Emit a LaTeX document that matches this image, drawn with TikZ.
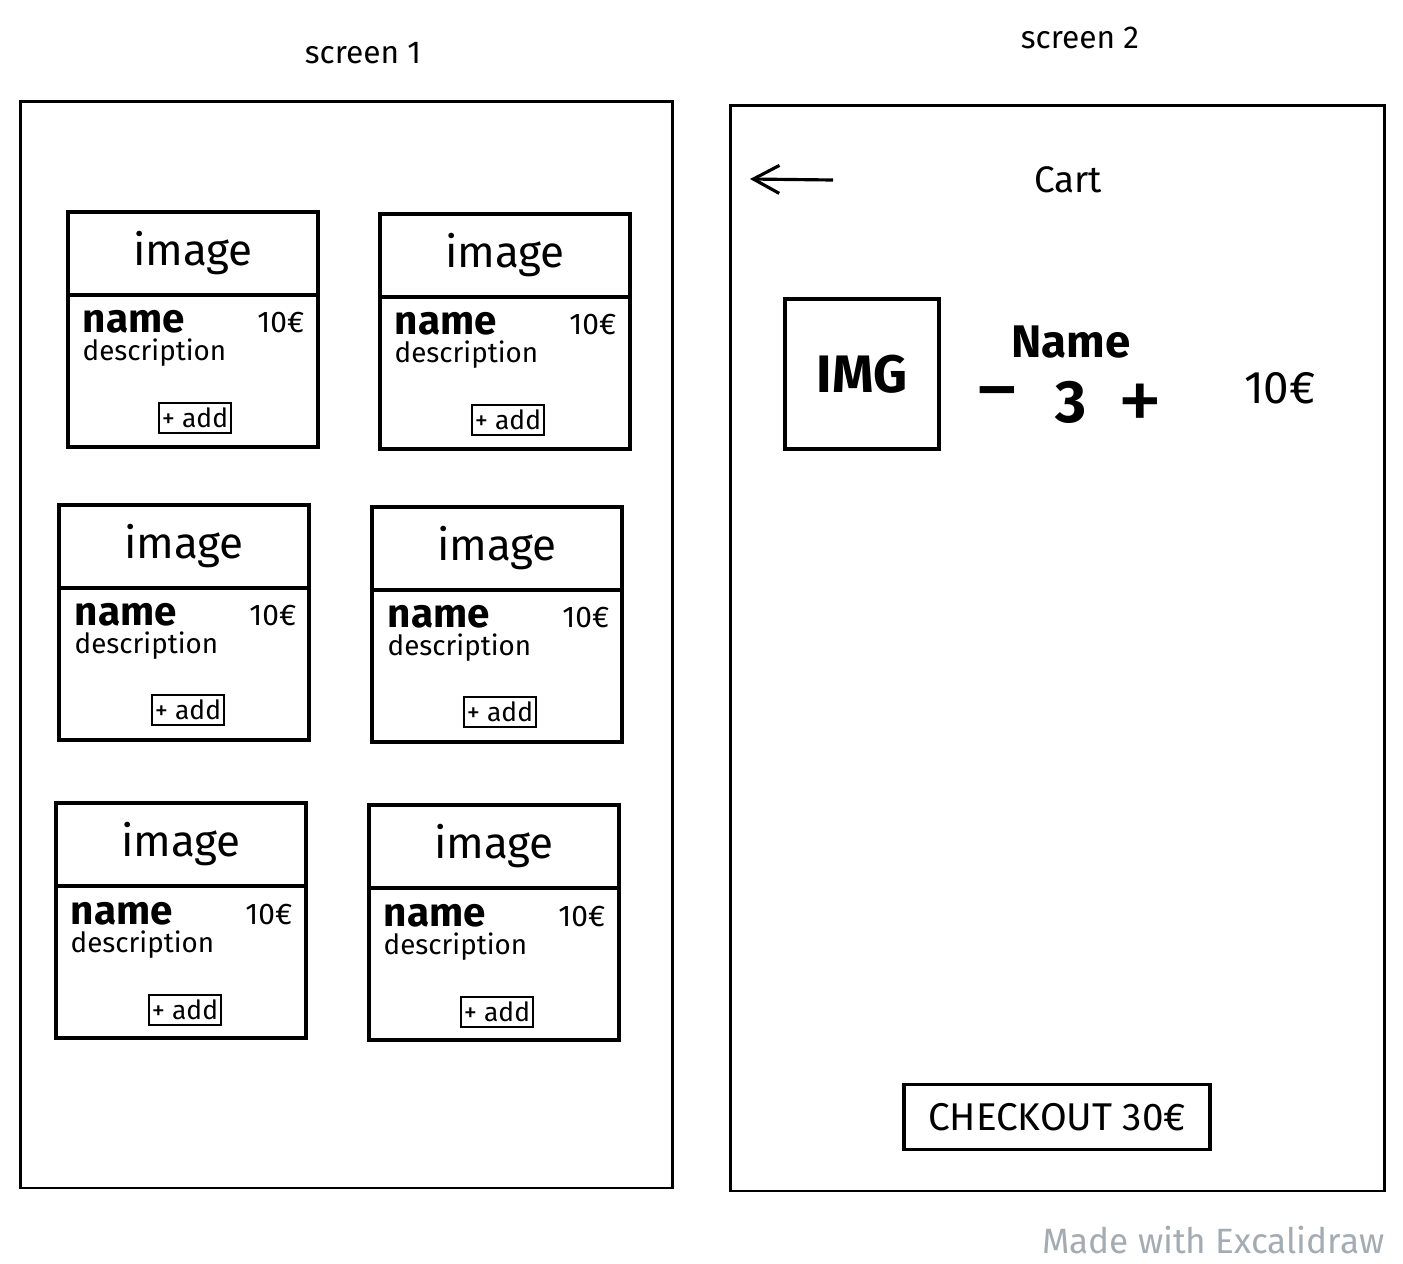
\documentclass[tikz,border=0pt]{standalone}
\usepackage{fontspec}
\setmainfont{Fira Sans}
\usetikzlibrary{arrows.meta}
\definecolor{stampgrey}{HTML}{A3ABB3}
\begin{document}
\begin{tikzpicture}[x=0.01cm, y=-0.01cm,
    screen/.style ={rectangle, draw, line width=0.8pt, inner sep=0pt, anchor=north west},
    card/.style ={rectangle, draw, line width=1.1pt, inner sep=0pt, minimum width=2.5cm, minimum height=2.35cm, anchor=north west},
    header/.style ={rectangle, draw, line width=1.1pt, inner sep=0pt, minimum width=2.5cm, minimum height=0.83cm, anchor=north west, font=\fontsize{12.5}{14}\selectfont},
    itemname/.style ={inner sep=0pt, anchor=west, font=\fontsize{11.5}{13}\selectfont\bfseries},
    desc/.style ={inner sep=0pt, anchor=west, font=\fontsize{7.9}{9}\selectfont},
    price/.style ={inner sep=0pt, anchor=east, font=\fontsize{8.5}{10}\selectfont},
    addbtn/.style ={rectangle, draw, line width=0.8pt, inner sep=0pt, minimum width=0.72cm, minimum height=0.3cm, font=\fontsize{7.5}{9}\selectfont},
    title/.style ={inner sep=0pt, font=\fontsize{9}{11}\selectfont}]
   \useasboundingbox (0,0) rectangle (1403,1263);

   % screen 1
   \node[title] (t1) at (363,53) {screen 1};
   \node[screen, minimum width=6.52cm, minimum height=10.86cm] (s1) at (19,100) {};

   \node[card] (c1) at (66,210) {};
   \node[header] (h1) at (66,210) {image};
   \node[itemname] (n1) at (82,322) {name};
   \node[desc] (d1) at (82,353) {description};
   \node[price] (p1) at (305,323) {10€};
   \node[addbtn] (a1) at (195,418) {+ add};

   \node[card] (c2) at (378,212) {};
   \node[header] (h2) at (378,212) {image};
   \node[itemname] (n2) at (394,324) {name};
   \node[desc] (d2) at (394,355) {description};
   \node[price] (p2) at (617,325) {10€};
   \node[addbtn] (a2) at (508,420) {+ add};

   \node[card] (c3) at (57,503) {};
   \node[header] (h3) at (57,503) {image};
   \node[itemname] (n3) at (74,615) {name};
   \node[desc] (d3) at (74,646) {description};
   \node[price] (p3) at (297,616) {10€};
   \node[addbtn] (a3) at (188,710) {+ add};

   \node[card] (c4) at (370,505) {};
   \node[header] (h4) at (370,505) {image};
   \node[itemname] (n4) at (387,617) {name};
   \node[desc] (d4) at (387,648) {description};
   \node[price] (p4) at (610,618) {10€};
   \node[addbtn] (a4) at (500,712) {+ add};

   \node[card] (c5) at (54,801) {};
   \node[header] (h5) at (54,801) {image};
   \node[itemname] (n5) at (70,914) {name};
   \node[desc] (d5) at (70,945) {description};
   \node[price] (p5) at (293,915) {10€};
   \node[addbtn] (a5) at (185,1010) {+ add};

   \node[card] (c6) at (367,803) {};
   \node[header] (h6) at (367,803) {image};
   \node[itemname] (n6) at (383,916) {name};
   \node[desc] (d6) at (383,947) {description};
   \node[price] (p6) at (606,917) {10€};
   \node[addbtn] (a6) at (497,1012) {+ add};

   % screen 2
   \node[title] (t2) at (1080,38) {screen 2};
   \node[screen, minimum width=6.54cm, minimum height=10.85cm] (s2) at (729,104) {};

   \coordinate (backstart) at (833,180);
   \coordinate (backend) at (750,179);
   \draw[line width=0.9pt, -{Straight Barb[length=2.6mm, width=2.8mm]}] (backstart) to (backend);
   \node[title, font=\fontsize{10.5}{12}\selectfont] (cart) at (1068,180) {Cart};

   \node[rectangle, draw, line width=1.1pt, minimum width=1.54cm, minimum height=1.5cm, anchor=north west] (img) at (783,297) {};
   \node[inner sep=0pt, font=\fontsize{15}{17}\selectfont\bfseries] (imgtxt) at (img.center) {IMG};
   \node[inner sep=0pt, font=\fontsize{13}{15}\selectfont\bfseries] (cname) at (1071,342) {Name};
   \node[inner sep=0pt, font=\fontsize{26}{28}\selectfont] (minus) at (997,404) {−};
   \node[inner sep=0pt, font=\fontsize{17}{19}\selectfont\bfseries] (qty) at (1071,402) {3};
   \node[inner sep=0pt, font=\fontsize{26}{28}\selectfont] (plus) at (1140,408) {+};
   \node[inner sep=0pt, font=\fontsize{13}{15}\selectfont] (cprice) at (1280,388) {10€};

   \node[rectangle, draw, line width=1.1pt, minimum width=3.05cm, minimum height=0.65cm, font=\fontsize{11}{13}\selectfont] (checkout) at (1057,1117) {CHECKOUT 30€};

   \node[inner sep=0pt, anchor=east, text=stampgrey, font=\fontsize{10}{12}\selectfont] (stamp) at (1385,1240) {Made with Excalidraw};
 \end{tikzpicture}
\end{document}
